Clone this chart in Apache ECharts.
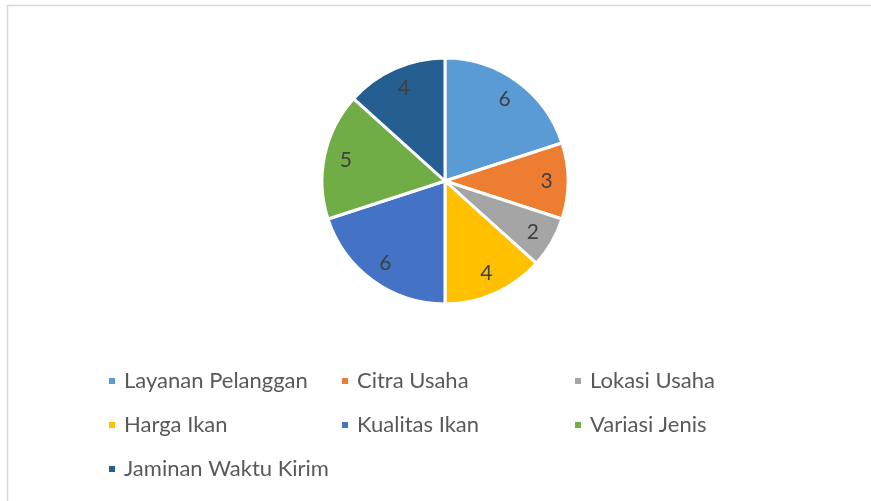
<!DOCTYPE html>
<html>
<head>
<meta charset="utf-8">
<script src="https://cdn.jsdelivr.net/npm/echarts@6/dist/echarts.min.js"></script>
<style>
  html, body { margin: 0; padding: 0; background: #fff; }
  #main { width: 871px; height: 501px; }
</style>
</head>
<body>
<div id="main"></div>
<script>
// data
let categories = ['Layanan Pelanggan', 'Citra Usaha', 'Lokasi Usaha', 'Harga Ikan', 'Kualitas Ikan', 'Variasi Jenis', 'Jaminan Waktu Kirim']
let values = [6, 3, 2, 4, 6, 5, 4]
let colors = ['#5b9bd5', '#ed7d31', '#a5a5a5', '#ffc000', '#4472c4', '#70ad47', '#255e91']

let font = 'Lato'

let myChart = echarts.init(document.getElementById('main'))

let pieData = categories.map((name, i) => ({ name: name, value: values[i] }))

myChart.setOption({
    color: colors,
    animation: false,
    graphic: [{
        type: 'rect',
        shape: { x: 7.5, y: 5.5, width: 900, height: 600 },
        style: { fill: 'none', stroke: '#d9d9d9', lineWidth: 1.5 },
        silent: true
    }],
    legend: {
        data: categories,
        left: 107,
        top: 368,
        width: 720,
        padding: 0,
        itemWidth: 8,
        itemHeight: 8,
        itemGap: 18,
        icon: 'rect',
        textStyle: {
            fontFamily: font,
            fontSize: 22,
            color: '#595959',
            width: 198,
            lineHeight: 26,
            padding: [0, 0, 0, 3]
        }
    },
    series: [
        {
            type: 'pie',
            center: [445, 181],
            radius: [0, 123],
            startAngle: 90,
            clockwise: true,
            data: pieData,
            itemStyle: { borderColor: '#fff', borderWidth: 3 },
            label: { show: false },
            labelLine: { show: false },
            emphasis: { disabled: true }
        },
        {
            // transparent ring only used to place the value labels further out
            type: 'pie',
            center: [445, 181],
            radius: [74, 123],
            startAngle: 90,
            clockwise: true,
            data: pieData,
            silent: true,
            itemStyle: { color: 'transparent', borderWidth: 0 },
            label: {
                show: true,
                position: 'inside',
                formatter: '{c}',
                fontFamily: font,
                fontSize: 21,
                color: '#404040'
            },
            labelLine: { show: false },
            emphasis: { disabled: true }
        }
    ]
})
</script>
</body>
</html>
